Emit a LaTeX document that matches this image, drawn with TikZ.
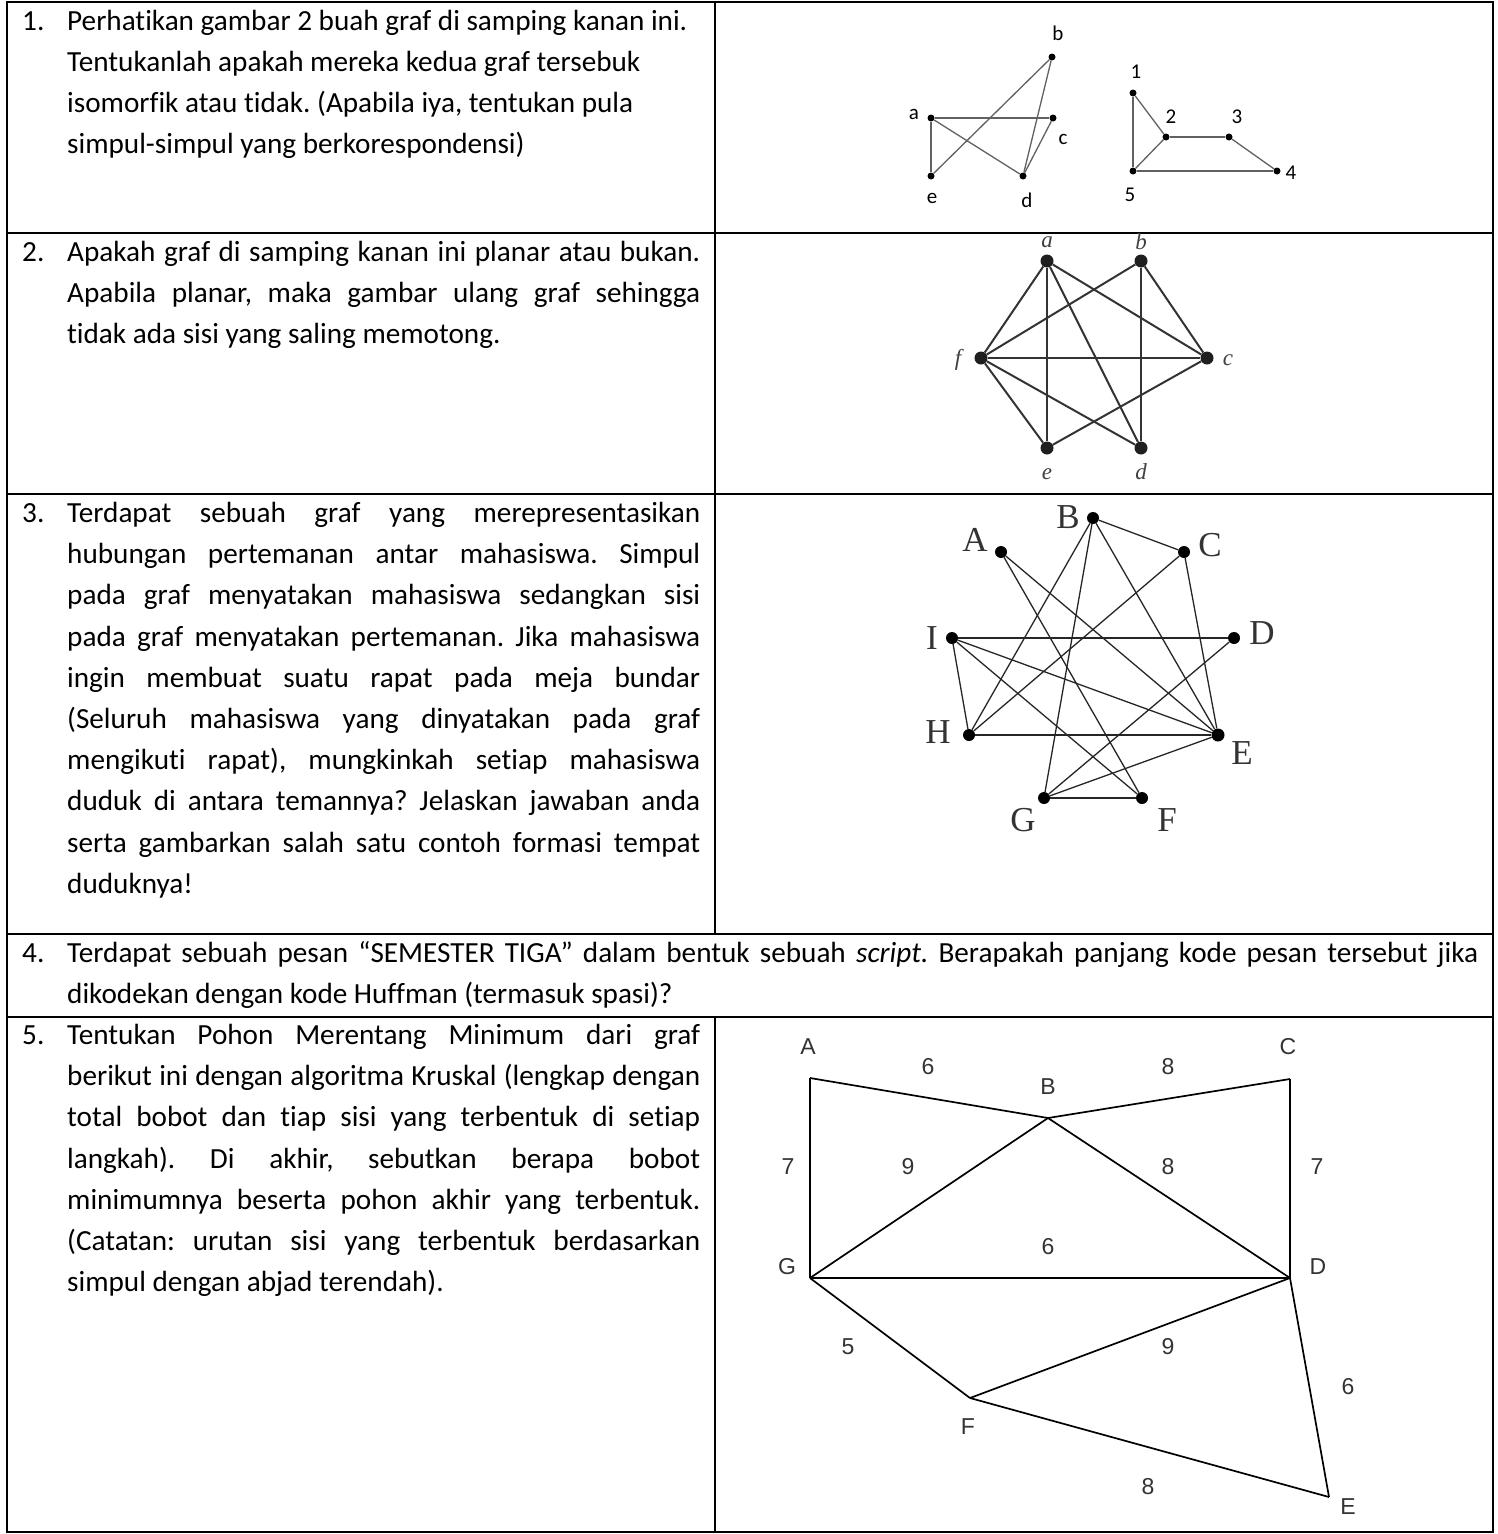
\documentclass[tikz,border=0pt]{standalone}
\usepackage{fontspec}
\setmainfont{Carlito}[Ligatures=NoCommon]
\newfontfamily\serifface{Liberation Serif}
\newfontfamily\arialface{Liberation Sans}
\newcommand\jl[1]{\hbox to 633pt{#1}}
\newcommand\jlw[1]{\hbox to 1411pt{#1}}
\frenchspacing
\begin{document}
\begin{tikzpicture}[x=1pt,y=-1pt,
  body/.style={anchor=base west, inner sep=0pt, font=\fontsize{29.2pt}{41pt}\selectfont},
  grid/.style={line width=2pt},
  gonedot/.style={circle, fill=black, inner sep=0pt, minimum size=7pt},
  goneedge/.style={draw=black!62, line width=1.3pt},
  gonelab/.style={font=\fontsize{21pt}{21pt}\selectfont, inner sep=0pt},
  gtwodot/.style={circle, fill=black!88, minimum size=13pt, inner sep=0pt},
  gtwoedge/.style={draw=black!80, line width=2pt},
  gtwolab/.style={font=\serifface\itshape\fontsize{23pt}{23pt}\selectfont, text=black!75, inner sep=0pt},
  gthreedot/.style={circle, fill=black, minimum size=12pt, inner sep=0pt},
  gthreeedge/.style={draw=black!85, line width=1.3pt},
  gthreelab/.style={font=\serifface\fontsize{35pt}{35pt}\selectfont, text=black!80, inner sep=0pt},
  gfiveedge/.style={draw=black, line width=1.7pt},
  gfivelab/.style={font=\arialface\fontsize{23pt}{23pt}\selectfont, text=black!80, inner sep=0pt}]
\useasboundingbox (0,0) rectangle (1498,1534);
\fill[white] (0,0) rectangle (1498,1534);

% table
\draw[grid] (7,2) rectangle (1493,1532);
\draw[grid] (7,233) -- (1493,233);
\draw[grid] (7,494) -- (1493,494);
\draw[grid] (7,934) -- (1493,934);
\draw[grid] (7,1017) -- (1493,1017);
\draw[grid] (715,2) -- (715,934);
\draw[grid] (715,1017) -- (715,1532);

% question 1 text
\node[body] (n1) at (22,30) {1.};
\node[body] (t11) at (67,30) {Perhatikan gambar 2 buah graf di samping kanan ini.};
\node[body] (t12) at (67,71) {Tentukanlah apakah mereka kedua graf tersebuk};
\node[body] (t13) at (67,112) {isomorfik atau tidak. (Apabila iya, tentukan pula};
\node[body] (t14) at (67,153) {simpul-simpul yang berkorespondensi)};

% question 2 text
\node[body] (n2) at (22,261) {2.};
\node[body] (t21) at (67,261) {\jl{Apakah graf di samping kanan ini planar atau bukan.}};
\node[body] (t22) at (67,302) {\jl{Apabila planar, maka gambar ulang graf sehingga}};
\node[body] (t23) at (67,343) {tidak ada sisi yang saling memotong.};

% question 3 text
\node[body] (n3) at (22,522) {3.};
\node[body] (t31) at (67,522) {\jl{Terdapat sebuah graf yang merepresentasikan}};
\node[body] (t32) at (67,563) {\jl{hubungan pertemanan antar mahasiswa. Simpul}};
\node[body] (t33) at (67,604) {\jl{pada graf menyatakan mahasiswa sedangkan sisi}};
\node[body] (t34) at (67,646) {\jl{pada graf menyatakan pertemanan. Jika mahasiswa}};
\node[body] (t35) at (67,687) {\jl{ingin membuat suatu rapat pada meja bundar}};
\node[body] (t36) at (67,728) {\jl{(Seluruh mahasiswa yang dinyatakan pada graf}};
\node[body] (t37) at (67,769) {\jl{mengikuti rapat), mungkinkah setiap mahasiswa}};
\node[body] (t38) at (67,810) {\jl{duduk di antara temannya? Jelaskan jawaban anda}};
\node[body] (t39) at (67,852) {\jl{serta gambarkan salah satu contoh formasi tempat}};
\node[body] (t310) at (67,893) {duduknya!};

% question 4 text
\node[body] (n4) at (22,962) {4.};
\node[body] (t41) at (67,962) {\jlw{Terdapat sebuah pesan “SEMESTER TIGA” dalam bentuk sebuah \textit{script.} Berapakah panjang kode pesan tersebut jika}};
\node[body] (t42) at (67,1003) {dikodekan dengan kode Huffman (termasuk spasi)?};

% question 5 text
\node[body] (n5) at (22,1044) {5.};
\node[body] (t51) at (67,1044) {\jl{Tentukan Pohon Merentang Minimum dari graf}};
\node[body] (t52) at (67,1085) {\jl{berikut ini dengan algoritma Kruskal (lengkap dengan}};
\node[body] (t53) at (67,1126) {\jl{total bobot dan tiap sisi yang terbentuk di setiap}};
\node[body] (t54) at (67,1168) {\jl{langkah). Di akhir, sebutkan berapa bobot}};
\node[body] (t55) at (67,1209) {\jl{minimumnya beserta pohon akhir yang terbentuk.}};
\node[body] (t56) at (67,1250) {\jl{(Catatan: urutan sisi yang terbentuk berdasarkan}};
\node[body] (t57) at (67,1291) {simpul dengan abjad terendah).};

% graph 1a
\node[gonedot] (qa) at (931,118) {};
\node[gonedot] (qb) at (1052,57) {};
\node[gonedot] (qc) at (1053,118) {};
\node[gonedot] (qd) at (1023,176) {};
\node[gonedot] (qe) at (931,176) {};
\draw[goneedge] (qa) -- (qc);
\draw[goneedge] (qa) -- (qe);
\draw[goneedge] (qa) -- (qd);
\draw[goneedge] (qe) -- (qb);
\draw[goneedge] (qb) -- (qd);
\draw[goneedge] (qc) -- (qd);
\node[gonelab] (lqa) at (914,114) {a};
\node[gonelab] (lqb) at (1058,33) {b};
\node[gonelab] (lqc) at (1063,139) {c};
\node[gonelab] (lqd) at (1027,200) {d};
\node[gonelab] (lqe) at (932,198) {e};

% graph 1b
\node[gonedot] (p1) at (1133,93) {};
\node[gonedot] (p2) at (1166,137) {};
\node[gonedot] (p3) at (1229,137) {};
\node[gonedot] (p4) at (1277,171) {};
\node[gonedot] (p5) at (1133,171) {};
\draw[goneedge] (p1) -- (p2);
\draw[goneedge] (p1) -- (p5);
\draw[goneedge] (p2) -- (p3);
\draw[goneedge] (p2) -- (p5);
\draw[goneedge] (p3) -- (p4);
\draw[goneedge] (p5) -- (p4);
\node[gonelab] (lp1) at (1136,72) {1};
\node[gonelab] (lp2) at (1171,117) {2};
\node[gonelab] (lp3) at (1237,117) {3};
\node[gonelab] (lp4) at (1291,173) {4};
\node[gonelab] (lp5) at (1130,195) {5};

% graph 2
\node[gtwodot] (ra) at (1047,261) {};
\node[gtwodot] (rb) at (1141,261) {};
\node[gtwodot] (rc) at (1207,358) {};
\node[gtwodot] (rd) at (1141,448) {};
\node[gtwodot] (re) at (1047,448) {};
\node[gtwodot] (rf) at (981,358) {};
\draw[gtwoedge] (ra) -- (rf);
\draw[gtwoedge] (ra) -- (re);
\draw[gtwoedge] (ra) -- (rd);
\draw[gtwoedge] (ra) -- (rc);
\draw[gtwoedge] (rb) -- (rf);
\draw[gtwoedge] (rb) -- (rd);
\draw[gtwoedge] (rb) -- (rc);
\draw[gtwoedge] (rf) -- (rc);
\draw[gtwoedge] (rf) -- (re);
\draw[gtwoedge] (rf) -- (rd);
\draw[gtwoedge] (rc) -- (re);
\node[gtwolab] (lra) at (1047,242) {a};
\node[gtwolab] (lrb) at (1141,242) {b};
\node[gtwolab] (lrc) at (1228,360) {c};
\node[gtwolab] (lrd) at (1141,472) {d};
\node[gtwolab] (lre) at (1047,474) {e};
\node[gtwolab] (lrf) at (958,360) {f};

% graph 3
\node[gthreedot] (sA) at (1001,552) {};
\node[gthreedot] (sB) at (1093,518) {};
\node[gthreedot] (sC) at (1184,552) {};
\node[gthreedot] (sD) at (1234,638) {};
\node[gthreedot,minimum size=13pt] (sE) at (1218,735) {};
\node[gthreedot] (sF) at (1142,798) {};
\node[gthreedot] (sG) at (1044,798) {};
\node[gthreedot] (sH) at (969,735) {};
\node[gthreedot] (sI) at (952,638) {};
\draw[gthreeedge] (sB) -- (sC);
\draw[gthreeedge] (sB) -- (sH);
\draw[gthreeedge] (sB) -- (sG);
\draw[gthreeedge] (sB) -- (sE);
\draw[gthreeedge] (sA) -- (sE);
\draw[gthreeedge] (sA) -- (sF);
\draw[gthreeedge] (sC) -- (sH);
\draw[gthreeedge] (sC) -- (sE);
\draw[gthreeedge] (sI) -- (sD);
\draw[gthreeedge] (sI) -- (sH);
\draw[gthreeedge] (sI) -- (sE);
\draw[gthreeedge] (sI) -- (sF);
\draw[gthreeedge] (sH) -- (sE);
\draw[gthreeedge] (sD) -- (sG);
\draw[gthreeedge] (sG) -- (sE);
\draw[gthreeedge] (sG) -- (sF);
\node[gthreelab] (lsA) at (975,540) {A};
\node[gthreelab] (lsB) at (1068,517) {B};
\node[gthreelab] (lsC) at (1210,545) {C};
\node[gthreelab] (lsD) at (1262,633) {D};
\node[gthreelab] (lsE) at (1242,753) {E};
\node[gthreelab] (lsF) at (1167,820) {F};
\node[gthreelab] (lsG) at (1023,820) {G};
\node[gthreelab] (lsH) at (938,732) {H};
\node[gthreelab] (lsI) at (932,638) {I};

% graph 5
\coordinate (uA) at (810,1078);
\coordinate (uB) at (1048,1118);
\coordinate (uC) at (1290,1079);
\coordinate (uD) at (1290,1278);
\coordinate (uG) at (810,1278);
\coordinate (uF) at (970,1398);
\coordinate (uE) at (1329,1497);
\draw[gfiveedge] (uA) -- (uB);
\draw[gfiveedge] (uB) -- (uC);
\draw[gfiveedge] (uA) -- (uG);
\draw[gfiveedge] (uC) -- (uD);
\draw[gfiveedge] (uB) -- (uG);
\draw[gfiveedge] (uB) -- (uD);
\draw[gfiveedge] (uG) -- (uD);
\draw[gfiveedge] (uG) -- (uF);
\draw[gfiveedge] (uF) -- (uD);
\draw[gfiveedge] (uD) -- (uE);
\draw[gfiveedge] (uF) -- (uE);
\node[gfivelab] (luA) at (808,1047) {A};
\node[gfivelab] (luB) at (1048,1087) {B};
\node[gfivelab] (luC) at (1288,1047) {C};
\node[gfivelab] (luD) at (1318,1267) {D};
\node[gfivelab] (luE) at (1348,1507) {E};
\node[gfivelab] (luF) at (968,1427) {F};
\node[gfivelab] (luG) at (787,1267) {G};
\node[gfivelab] (wAB) at (928,1067) {6};
\node[gfivelab] (wBC) at (1168,1067) {8};
\node[gfivelab] (wAG) at (788,1167) {7};
\node[gfivelab] (wBG) at (908,1167) {9};
\node[gfivelab] (wBD) at (1168,1167) {8};
\node[gfivelab] (wCD) at (1317,1167) {7};
\node[gfivelab] (wGD) at (1048,1247) {6};
\node[gfivelab] (wGF) at (848,1347) {5};
\node[gfivelab] (wFD) at (1168,1347) {9};
\node[gfivelab] (wDE) at (1348,1387) {6};
\node[gfivelab] (wFE) at (1148,1487) {8};
\end{tikzpicture}
\end{document}
